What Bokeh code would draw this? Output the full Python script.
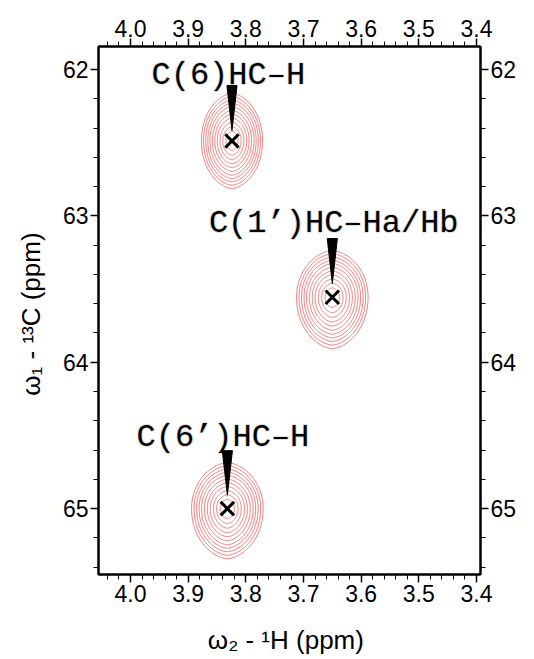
import numpy as np
from bokeh.plotting import figure
from bokeh.models import Range1d, LinearAxis, FixedTicker, PrintfTickFormatter
from bokeh.core.properties import value
from bokeh.embed import file_html
from bokeh.resources import INLINE

# ---- data ----
peak_names = ["C(6)HC–H", "C(1’)HC–Ha/Hb", "C(6’)HC–H"]
peak_h = [3.824, 3.650, 3.832]          # omega2 - 1H (ppm)
peak_c = [62.488, 63.556, 65.000]       # omega1 - 13C (ppm)
peak_half_w = [0.053, 0.062, 0.062]     # outer contour half width (1H ppm)
peak_half_up = [0.325, 0.319, 0.314]    # outer contour extent toward lower 13C ppm
peak_half_dn = [0.325, 0.351, 0.342]    # outer contour extent toward higher 13C ppm
contour_levels = [1.0, 0.93, 0.86, 0.79, 0.72, 0.64, 0.56, 0.48, 0.39, 0.30, 0.20]

label_h = [3.9636, 3.864, 3.9896]
label_c = [62.041, 63.052, 64.515]
arrow_top = [62.109, 63.155, 64.604]
arrow_tip = [62.417, 63.462, 64.908]
arrow_half_w = 0.0088

x_ticks = [4.0, 3.9, 3.8, 3.7, 3.6, 3.5, 3.4]
y_ticks = [62, 63, 64, 65]

# ---- figure ----
p = figure(frame_width=382, frame_height=528,
           x_range=Range1d(4.0555, 3.393), y_range=Range1d(65.45, 61.843),
           output_backend="svg", toolbar_location=None,
           min_border_left=98, min_border_top=46, min_border_right=46, min_border_bottom=80,
           x_axis_label="ω₂ - ¹H  (ppm)", y_axis_label="ω₁ - ¹³C  (ppm)")
p.grid.visible = False
p.outline_line_color = "black"
p.outline_line_width = 2
p.background_fill_color = "white"
p.border_fill_color = "white"

x_minor = list(np.round(np.arange(3.40, 4.0601, 0.02), 2))
y_minor = list(np.round(np.arange(61.8, 65.5, 0.2), 1))
xt = FixedTicker(ticks=x_ticks, minor_ticks=x_minor)
yt = FixedTicker(ticks=y_ticks, minor_ticks=y_minor)

p.add_layout(LinearAxis(), "above")
p.add_layout(LinearAxis(), "right")

for ax in p.xaxis:
    ax.ticker = xt
    ax.formatter = PrintfTickFormatter(format="%.1f")
for ax in p.yaxis:
    ax.ticker = yt
for ax in p.axis:
    ax.major_label_text_font = "Liberation Sans"
    ax.major_label_text_font_size = "23px"
    ax.major_label_text_color = "black"
    ax.major_label_standoff = 2
    ax.major_tick_out = 8
    ax.major_tick_in = 0
    ax.minor_tick_out = 5
    ax.minor_tick_in = 0
    ax.major_tick_line_color = "black"
    ax.major_tick_line_width = 1.5
    ax.minor_tick_line_color = "black"
    ax.minor_tick_line_width = 1
    ax.axis_line_color = "black"
    ax.axis_line_width = 2
    ax.axis_label_text_font = "Liberation Sans"
    ax.axis_label_text_font_size = "26px"
    ax.axis_label_text_font_style = "normal"
    ax.axis_label_text_color = "black"
    ax.axis_label_standoff = 20

p.xaxis[0].axis_label_standoff = 20
p.yaxis[0].axis_label_standoff = 14

# ---- contours ----
t = np.linspace(0, 2 * np.pi, 181)
xs, ys = [], []
for h, c, a, bu, bd in zip(peak_h, peak_c, peak_half_w, peak_half_up, peak_half_dn):
    cx = np.sign(np.cos(t)) * np.abs(np.cos(t)) ** (2 / 1.7)
    sy = np.sin(t)
    cy = np.sign(sy) * np.abs(sy) ** (2 / 2.1)
    bvec = np.where(sy > 0, bd, bu)
    for s in contour_levels:
        xs.append(list(h + s * a * cx))
        ys.append(list(c + s * bvec * cy))
p.multi_line(xs, ys, line_color="#ef5b5b", line_width=0.8)

# ---- arrows ----
axs = [[h - arrow_half_w, h + arrow_half_w, h] for h in peak_h]
ays = [[tp, tp, tip] for tp, tip in zip(arrow_top, arrow_tip)]
p.patches(axs, ays, fill_color="black", line_color="black", line_width=1)

# ---- peak markers ----
p.scatter(peak_h, peak_c, marker="x", size=19, line_width=3, line_color="black")

# ---- labels ----
p.text(x=label_h, y=label_c, text=peak_names, text_font=value("Liberation Mono"),
       text_font_size="32px", text_align="left", text_baseline="alphabetic",
       text_color="black", text_outline_color="rgba(0,0,0,0.15)")

open("out.html", "w").write(file_html(p, INLINE))
